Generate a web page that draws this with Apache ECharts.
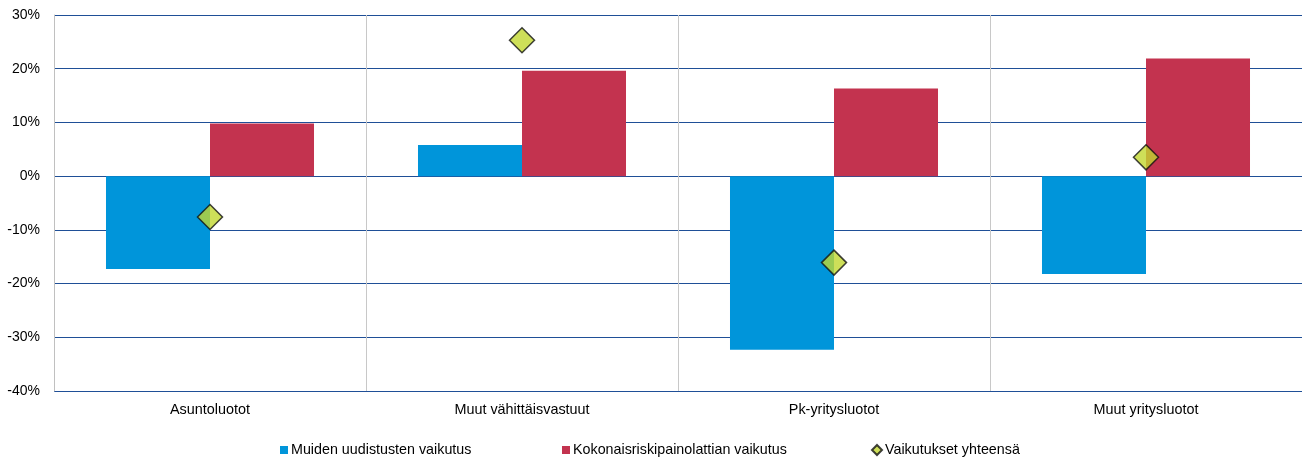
<!DOCTYPE html>
<html>
<head>
<meta charset="utf-8">
<script src="https://cdn.jsdelivr.net/npm/echarts@6/dist/echarts.min.js"></script>
<style>
  html, body { margin: 0; padding: 0; background: #fff; }
  #chart { width: 1302px; height: 459px; }
</style>
</head>
<body>
<div id="chart"></div>
<script>
// Loan categories along the x axis
const categories = ['Asuntoluotot', 'Muut vähittäisvastuut', 'Pk-yritysluotot', 'Muut yritysluotot'];

// Effects in percent
const otherReforms = [-17.3, 5.8, -32.3, -18.2];   // Muiden uudistusten vaikutus
const riskWeightFloor = [9.8, 19.6, 16.3, 21.9];   // Kokonaisriskipainolattian vaikutus
const totalEffect = [-7.6, 25.3, -16.1, 3.5];      // Vaikutukset yhteensä

// Y axis ticks
const yTicks = [-40, -30, -20, -10, 0, 10, 20, 30];

const seriesNames = ['Muiden uudistusten vaikutus', 'Kokonaisriskipainolattian vaikutus', 'Vaikutukset yhteensä'];

const FONT = '"Liberation Sans", Arial, sans-serif';
const chart = echarts.init(document.getElementById('chart'), null, { renderer: 'canvas' });

function legendAt(left, name, icon) {
  return {
    left: left,
    top: 443,
    data: [{ name: name, icon: icon }],
    itemWidth: icon === 'diamond' ? 10 : 8,
    itemHeight: icon === 'diamond' ? 10 : 8,
    itemGap: 0,
    padding: 0,
    textStyle: { fontFamily: FONT, fontSize: 14.3, color: '#000', padding: [0, 0, 0, -2] },
    selectedMode: false
  };
}

chart.setOption({
  animation: false,
  backgroundColor: '#ffffff',
  grid: { left: 54, right: 0, top: 15, bottom: 68, containLabel: false },
  legend: [
    legendAt(280, seriesNames[0], 'rect'),
    legendAt(562, seriesNames[1], 'rect'),
    legendAt(871, seriesNames[2], 'diamond')
  ],
  xAxis: {
    type: 'category',
    data: categories,
    axisLine: { show: false, onZero: false },
    axisTick: { show: false },
    axisLabel: { fontFamily: FONT, fontSize: 14.4, color: '#000', margin: 12 },
    splitLine: { show: true, lineStyle: { color: '#c8c8c8', width: 1 } }
  },
  yAxis: {
    type: 'value',
    min: yTicks[0],
    max: yTicks[yTicks.length - 1],
    interval: 10,
    axisLine: { show: true, lineStyle: { color: '#c0c0c0', width: 1 } },
    axisTick: { show: false },
    axisLabel: {
      fontFamily: FONT, fontSize: 14, color: '#000', margin: 14,
      formatter: v => v + '%'
    },
    splitLine: { show: true, lineStyle: { color: '#1f4f97', width: 1 } }
  },
  series: [
    {
      name: seriesNames[0],
      type: 'bar',
      data: otherReforms,
      barGap: '0%',
      barCategoryGap: '33.33%',
      itemStyle: { color: '#0095da' }
    },
    {
      name: seriesNames[1],
      type: 'bar',
      data: riskWeightFloor,
      barGap: '0%',
      barCategoryGap: '33.33%',
      itemStyle: { color: '#c3334f' }
    },
    {
      name: seriesNames[2],
      type: 'scatter',
      data: totalEffect,
      symbol: 'diamond',
      symbolSize: [25, 25],
      z: 5,
      itemStyle: { color: '#c2d72f', borderColor: '#111', borderWidth: 1.5 }
    }
  ]
});
</script>
</body>
</html>
